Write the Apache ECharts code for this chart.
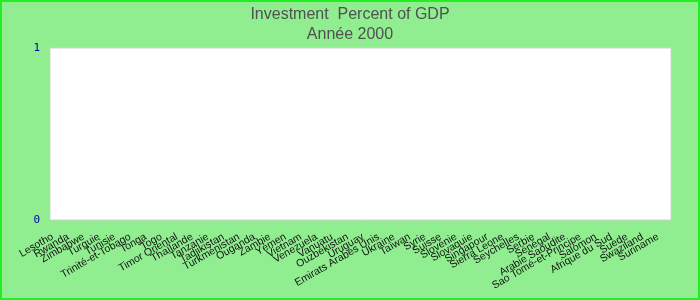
<!DOCTYPE html>
<html><head><meta charset="utf-8">
<script src="https://cdn.jsdelivr.net/npm/echarts@6/dist/echarts.min.js"></script>
<style>html,body{margin:0;padding:0;background:#90EE90}#c{width:700px;height:300px}</style>
</head><body><div id="c"></div>
<script>
const categories = ["Lesotho","Rwanda","Zimbabwe","Turquie","Tunisie","Trinité-et-Tobago","Tonga","Togo","Timor Oriental","Thaïlande","Tanzanie","Tadjikistan","Turkménistan","Ouganda","Zambie","Yémen","Vietnam","Venezuela","Vanuatu","Ouzbékistan","Uruguay","Emirats Arabes Unis","Ukraine","Taïwan","Syrie","Suisse","Slovénie","Slovaquie","Singapour","Sierra Leone","Seychelles","Serbie","Sénégal","Arabie Saoudite","Sao Tomé-et-Principe","Salomon","Afrique du Sud","Suède","Swaziland","Suriname"];
const values = [0,0,0,0,0,0,0,0,0,0,0,0,0,0,0,0,0,0,0,0,0,0,0,0,0,0,0,0,0,0,0,0,0,0,0,0,0,0,0,0];
const yTicks = [0, 1];
const titleLines = ["Investment  Percent of GDP", "Année 2000"];

const chart = echarts.init(document.getElementById('c'), null, {renderer:'canvas'});
chart.setOption({
  backgroundColor: '#90EE90',
  animation: false,
  title: {
    text: titleLines.join('\n'),
    left: 'center', top: 0,
    textStyle: {fontFamily: 'Liberation Sans, Arial', fontSize: 16, fontWeight: 'normal', color: '#505050', lineHeight: 20}
  },
  graphic: [{type:'rect', shape:{x:1,y:1,width:698,height:298}, style:{fill:null, stroke:'#22ee22', lineWidth:2}, z:100}],
  grid: {left: 50, right: 29, top: 48, bottom: 80, show: true, backgroundColor: '#fff', borderColor: '#d0d0d0', borderWidth: 1},
  xAxis: {
    type: 'category', data: categories,
    axisLine: {show: false}, axisTick: {show: false},
    axisLabel: {interval: 0, rotate: 30, margin: 13, padding: [0, 6, 0, 0], fontFamily: 'Liberation Sans, Arial', fontSize: 10.5, color: '#111'}
  },
  yAxis: {
    type: 'value', min: yTicks[0], max: yTicks[yTicks.length-1], interval: 1,
    axisLine: {show: false}, axisTick: {show: false}, splitLine: {show: false},
    axisLabel: {margin: 10, fontFamily: 'DejaVu Sans Mono', fontSize: 11, color: '#0000aa'}
  },
  series: [{type: 'bar', data: values, itemStyle: {color: '#4472c4'}}]
});
</script></body></html>
